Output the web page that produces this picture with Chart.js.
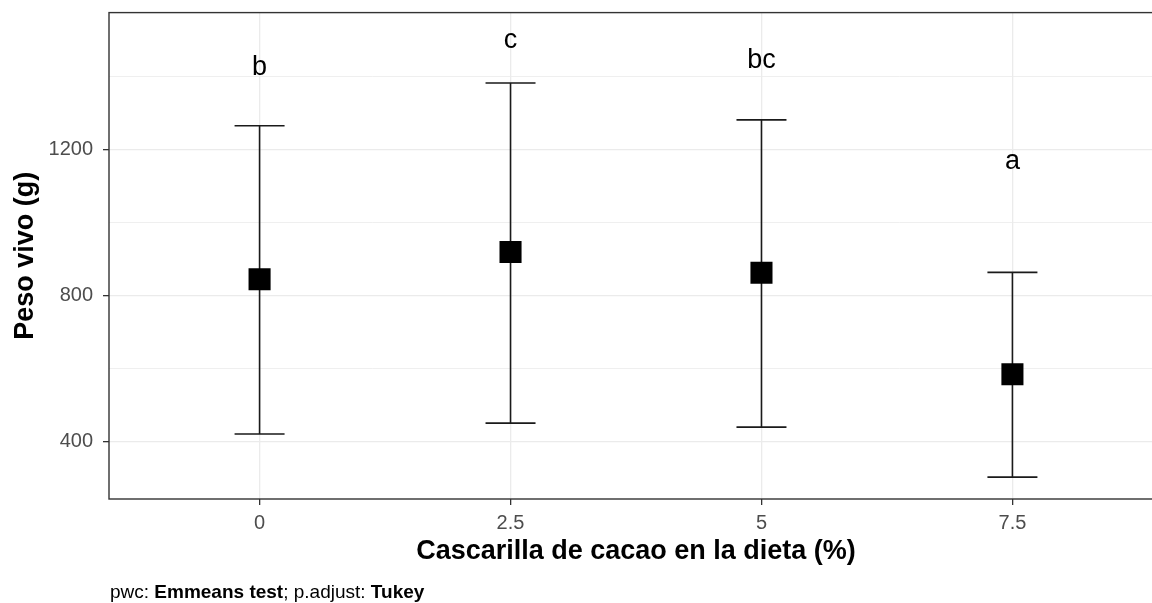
<!DOCTYPE html>
<html>
<head>
<meta charset="utf-8">
<script src="https://cdn.jsdelivr.net/npm/chart.js@4"></script>
<style>
  html, body { margin: 0; padding: 0; background: #fff; overflow: hidden; }
  #wrap { width: 1152px; height: 603px; overflow: hidden; }
  #chart { display: block; margin-top: -3px; }
</style>
</head>
<body>
<div id="wrap"><canvas id="chart" width="1180" height="606"></canvas></div>
<script>
// dieta (% cascarilla) and peso vivo stats
const dosis = [0, 2.5, 5, 7.5];
const media = [845, 920, 863, 585];
const superior = [1266, 1383, 1282, 864];
const inferior = [421, 451, 440, 303];
const letras = ['b', 'c', 'bc', 'a'];
const letrasY = [1406, 1480, 1425, 1148];
const yTicks = [400, 800, 1200];

const FONT = '"Liberation Sans", Arial, sans-serif';

// error bars under the squares
const errorBars = {
  id: 'errorBars',
  beforeDatasetsDraw(chart) {
    const { ctx, scales: { x, y } } = chart;
    ctx.save();
    ctx.strokeStyle = '#1a1a1a';
    ctx.lineWidth = 1.6;
    dosis.forEach((d, i) => {
      const px = x.getPixelForValue(d);
      const top = y.getPixelForValue(superior[i]);
      const bot = y.getPixelForValue(inferior[i]);
      ctx.beginPath();
      ctx.moveTo(px, top); ctx.lineTo(px, bot);
      ctx.moveTo(px - 25, top); ctx.lineTo(px + 25, top);
      ctx.moveTo(px - 25, bot); ctx.lineTo(px + 25, bot);
      ctx.stroke();
    });
    ctx.restore();
  }
};

// panel border, letters, axis titles, caption (canvas is shifted up 3px)
const decor = {
  id: 'decor',
  afterDraw(chart) {
    const { ctx, chartArea: a, scales: { x, y } } = chart;
    ctx.save();
    ctx.strokeStyle = '#333';
    ctx.lineWidth = 1.4;
    ctx.strokeRect(a.left, a.top, a.right - a.left, a.bottom - a.top);

    ctx.fillStyle = '#000';
    ctx.font = '27px ' + FONT;
    ctx.textAlign = 'center';
    ctx.textBaseline = 'alphabetic';
    letras.forEach((t, i) => {
      ctx.fillText(t, x.getPixelForValue(dosis[i]), y.getPixelForValue(letrasY[i]));
    });

    ctx.font = 'bold 27px ' + FONT;
    ctx.textBaseline = 'middle';
    ctx.fillText('Cascarilla de cacao en la dieta (%)', (a.left + a.right) / 2, 555);
    ctx.save();
    ctx.translate(26, (a.top + a.bottom) / 2);
    ctx.rotate(-Math.PI / 2);
    ctx.fillText('Peso vivo (g)', 0, 0);
    ctx.restore();

    // caption with bold pieces
    const parts = [['pwc: ', ''], ['Emmeans test', 'bold '], ['; p.adjust: ', ''], ['Tukey', 'bold ']];
    ctx.textAlign = 'left';
    ctx.textBaseline = 'alphabetic';
    let cx = 110;
    parts.forEach(([txt, w]) => {
      ctx.font = w + '19px ' + FONT;
      ctx.fillText(txt, cx, 601);
      cx += ctx.measureText(txt).width;
    });
    ctx.restore();
  }
};

new Chart(document.getElementById('chart'), {
  type: 'scatter',
  data: {
    datasets: [{
      data: dosis.map((d, i) => ({ x: d, y: media[i] })),
      pointStyle: 'rect',
      pointRadius: 15.6,
      pointHoverRadius: 15.6,
      backgroundColor: '#000',
      borderWidth: 0
    }]
  },
  options: {
    responsive: false,
    animation: false,
    devicePixelRatio: 1,
    layout: { padding: { top: 0, right: 17, left: 0, bottom: 0 } },
    plugins: { legend: { display: false }, tooltip: { enabled: false } },
    scales: {
      x: {
        type: 'linear',
        min: -1.5,
        max: 9,
        afterFit: s => { s.height = 104; s.paddingLeft = 0; s.paddingRight = 0; },
        afterBuildTicks: s => { s.ticks = dosis.map(v => ({ value: v })); },
        border: { display: false },
        grid: { color: '#ebebeb', lineWidth: 1.3, tickLength: 6, tickColor: '#333' },
        ticks: {
          padding: 6,
          color: '#4d4d4d',
          font: { family: FONT, size: 20 },
          callback: v => String(v)
        }
      },
      y: {
        min: 243,
        max: 1576,
        afterFit: s => { s.width = 109; s.paddingTop = 0; s.paddingBottom = 0; },
        border: { display: false },
        grid: {
          color: '#ebebeb',
          lineWidth: c => (yTicks.includes(c.tick.value) ? 1.3 : 0.8),
          tickLength: 6,
          tickColor: c => (yTicks.includes(c.tick.value) ? '#333' : 'rgba(0,0,0,0)')
        },
        ticks: {
          stepSize: 200,
          includeBounds: false,
          padding: 10,
          color: '#4d4d4d',
          font: { family: FONT, size: 20 },
          callback: v => (yTicks.includes(v) ? String(v) : '')
        }
      }
    }
  },
  plugins: [errorBars, decor]
});
</script>
</body>
</html>
